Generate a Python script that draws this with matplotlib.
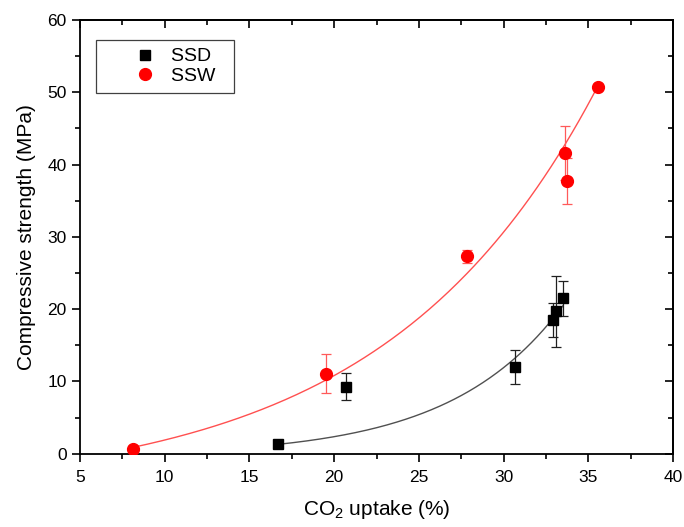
import numpy as np
import matplotlib
matplotlib.use('Agg')
import matplotlib.pyplot as plt
from matplotlib.ticker import MultipleLocator
from matplotlib.lines import Line2D

plt.rcParams['font.family'] = ['Liberation Sans', 'DejaVu Sans']
plt.rcParams['mathtext.fontset'] = 'custom'
plt.rcParams['mathtext.rm'] = 'Liberation Sans'
plt.rcParams['mathtext.it'] = 'Liberation Sans'

# SSD samples
ssd_x = [16.7, 20.7, 30.7, 32.9, 33.1, 33.5]
ssd_y = [1.3, 9.3, 12.0, 18.5, 19.7, 21.5]
ssd_err = [0.0, 1.9, 2.35, 2.4, 4.9, 2.4]

# SSW samples
ssw_x = [8.15, 19.5, 27.85, 33.6, 33.75, 35.55]
ssw_y = [0.65, 11.1, 27.3, 41.6, 37.7, 50.8]
ssw_err = [0.0, 2.7, 0.85, 3.7, 3.2, 0.0]

# 指数拟合参数 y = A*exp(x/t) + y0 (从原图曲线读出)
ssd_fit = dict(A=0.13, t=6.6, y0=-0.33)
ssw_fit = dict(A=3.27, t=12.5, y0=-5.38)


def exp_curve(x, A, t, y0):
    xx = np.linspace(min(x), max(x), 200)
    return xx, A * np.exp(xx / t) + y0


fig = plt.figure(figsize=(6.84, 5.27), dpi=100)
ax = fig.add_axes([0.117, 0.139, 0.867, 0.823])

fx, fy = exp_curve(ssd_x, **ssd_fit)
ax.plot(fx, fy, color='#505050', lw=1.0, zorder=2)
fx, fy = exp_curve(ssw_x, **ssw_fit)
ax.plot(fx, fy, color='#ff5050', lw=1.0, zorder=2)

ax.errorbar(ssd_x, ssd_y, yerr=ssd_err, fmt='s', color='black', ms=7.5,
            ecolor='#202020', elinewidth=0.9, capsize=3.5, capthick=0.9, zorder=3)
ax.errorbar(ssw_x, ssw_y, yerr=ssw_err, fmt='o', color='red', ms=8.5,
            ecolor='#ff5a5a', elinewidth=0.9, capsize=3.5, capthick=0.9, zorder=3)

ax.set_xlim(5, 40)
ax.set_ylim(0, 60)
ax.xaxis.set_major_locator(MultipleLocator(5))
ax.xaxis.set_minor_locator(MultipleLocator(2.5))
ax.yaxis.set_major_locator(MultipleLocator(10))
ax.yaxis.set_minor_locator(MultipleLocator(5))

ax.tick_params(which='both', direction='out', top=False, right=False,
               labelsize=12.5, width=1.2)
ax.tick_params(which='major', length=6)
ax.tick_params(which='minor', length=3.5)
ax.tick_params(axis='x', which='both', pad=6)

# 上轴和右轴: 向内刻度, 无标签
axt = ax.secondary_xaxis('top')
axt.xaxis.set_major_locator(MultipleLocator(5))
axt.xaxis.set_minor_locator(MultipleLocator(2.5))
axt.tick_params(which='both', direction='in', labeltop=False, width=1.2)
axt.tick_params(which='major', length=6)
axt.tick_params(which='minor', length=3.5)
axr = ax.secondary_yaxis('right')
axr.yaxis.set_major_locator(MultipleLocator(10))
axr.yaxis.set_minor_locator(MultipleLocator(5))
axr.tick_params(which='both', direction='in', labelright=False, width=1.2)
axr.tick_params(which='major', length=6)
axr.tick_params(which='minor', length=3.5)

for s in ax.spines.values():
    s.set_linewidth(1.3)
axt.spines['top'].set_linewidth(1.3)
axr.spines['right'].set_linewidth(1.3)

ax.set_xlabel('CO$_2$ uptake (%)', fontsize=15, labelpad=9)
ax.set_ylabel('Compressive strength (MPa)', fontsize=15, labelpad=8)

handles = [Line2D([], [], ls='none', marker='s', color='black', ms=7.5),
           Line2D([], [], ls='none', marker='o', color='red', ms=8.5)]
leg = ax.legend(handles, ['SSD  ', 'SSW  '], loc='upper left',
                bbox_to_anchor=(0.027, 0.954), borderaxespad=0,
                fontsize=14, fancybox=False, framealpha=1, edgecolor='#404040',
                borderpad=0.4, handlelength=4.2, handletextpad=-0.75,
                labelspacing=0.1, numpoints=1)
leg.get_frame().set_linewidth(0.9)

fig.savefig('out.png', dpi=100)
